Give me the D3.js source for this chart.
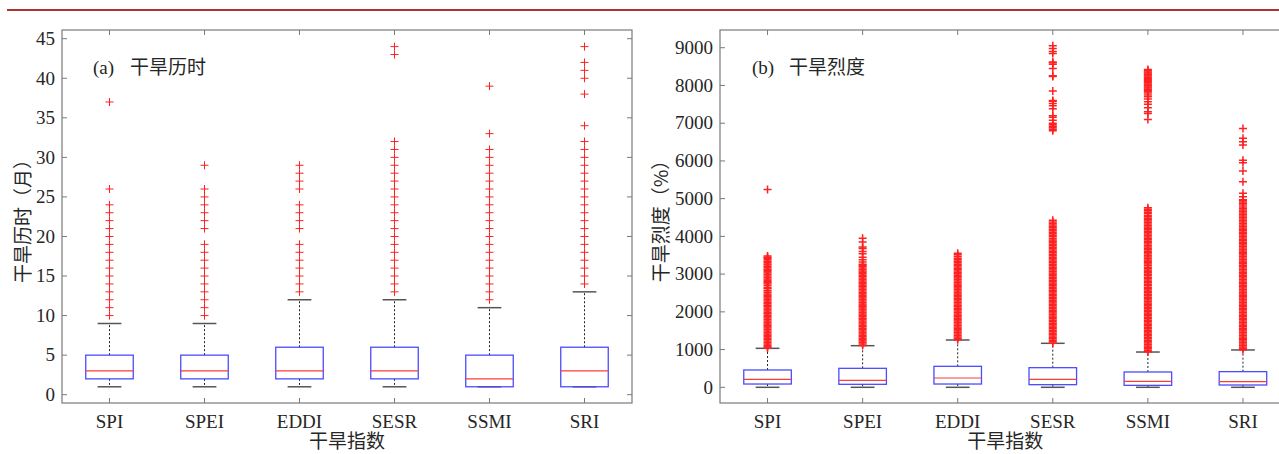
<!DOCTYPE html>
<html><head><meta charset="utf-8">
<script src="https://cdn.jsdelivr.net/npm/d3@7"></script>
<style>body{margin:0;background:#fff}svg{display:block}</style>
</head><body>
<svg id="c" width="1279" height="454"></svg>
<script>
// ---------- data ----------
const categories = ["SPI","SPEI","EDDI","SESR","SSMI","SRI"];

// panel (a) drought duration (months): [lowWhisker, q1, median, q3, highWhisker]
const durationStats = [
  [1,2,3,5,9],[1,2,3,5,9],[1,2,3,6,12],[1,2,3,6,12],[1,1,2,5,11],[1,1,3,6,13]
];
const durationOutliers = [
  [10,11,12,13,14,15,16,17,18,19,20,21,22,23,24,26,37],
  [10,11,12,13,14,15,16,17,18,19,21,22,23,24,25,26,29],
  [13,14,15,16,17,18,19,21,22,23,24,26,27,28,29],
  [13,14,15,16,17,18,19,20,21,22,23,24,25,26,27,28,29,30,31,32,43,44],
  [12,13,14,15,16,17,18,19,20,21,22,23,24,25,26,27,28,29,30,31,33,39],
  [14,15,16,17,18,19,20,21,22,23,24,25,26,27,28,29,30,31,32,34,38,40,41,42,44]
];
const durationTicks = [0,5,10,15,20,25,30,35,40,45];

// panel (b) drought severity (%)
const severityStats = [
  [0,87,212,459,1033],[0,79,185,503,1103],[0,87,246,556,1254],
  [0,70,212,520,1166],[0,52,158,406,935],[0,61,150,415,990]
];
const severityOutliersSPI = [1040,1075,1110,1150,1190,1225,1265,1300,1340,1380,1415,1455,1490,1530,1570,1605,1645,1680,1720,1760,1795,1835,1870,1910,1950,1985,2025,2060,2100,2140,2175,2215,2250,2290,2330,2365,2400,
  2440,2470,2520,2560,2610,2640,2690,2740,2770,2800,2840,2870,2910,2950,2990,3030,3060,3100,3130,3170,3200,3240,3270,3310,3340,3380,3420,3450,3480,5240];
const severityOutliersSPEI = [1110,1150,1185,1225,1260,1300,1340,1375,1415,1450,1490,1530,1565,1605,1640,1680,1720,1755,1795,1830,1870,1910,1945,1985,2020,2060,2100,2135,2175,2210,2250,2290,2325,2365,2400,2440,2480,2515,2555,2590,2630,2670,2705,2745,2780,2820,2860,2895,2935,2970,3010,3050,3085,3125,3160,3200,3235,3260,
  3320,3380,3450,3540,3600,3680,3720,3850,3950];
const severityOutliersEDDI = [1260,1300,1335,1375,1410,1450,1490,1525,1565,1600,1640,1680,1715,1755,1790,1830,1870,1905,1945,1980,2020,2060,2095,2135,2170,2210,2250,2285,2325,2360,2400,2440,2475,2515,2550,2590,2630,2665,2705,2740,2780,2820,2855,2895,2930,2970,3010,3045,3085,3120,3150,
  3190,3230,3260,3300,3340,3380,3420,3470,3510,3550];
const severityOutliersSESR = [1170,1210,1245,1285,1320,1360,1400,1435,1475,1510,1550,1590,1625,1665,1700,1740,1780,1815,1855,1890,1930,1970,2005,2045,2080,2120,2160,2195,2235,2270,2310,2350,2385,2425,2460,2500,2540,2575,2615,2650,2690,2730,2765,2805,2840,2880,2920,2955,2995,3030,3070,3110,3145,3185,3220,3260,3300,3335,3375,3410,3450,3490,3525,3565,3600,3640,3680,3715,3755,3790,3830,3870,3905,3945,
  3990,4030,4070,4110,4150,4190,4230,4260,4300,4340,4380,4430,
  6800,6840,6880,6920,6960,7000,7080,7160,7200,7380,7460,7520,7580,7600,7850,8240,8260,8450,8560,8600,8620,8850,8900,8980,9050];
const severityOutliersSSMI = [945,985,1020,1060,1095,1135,1175,1210,1250,1285,1325,1365,1400,1440,1475,1515,1555,1590,1630,1665,1705,1745,1780,1820,1855,1895,1935,1970,2010,2045,2085,2125,2160,2200,2235,2275,2315,2350,2390,2425,2465,2505,2540,2580,2615,2655,2695,2730,2770,2805,2845,2885,2920,2960,2995,3035,3075,3110,3150,3185,3225,3265,3300,3340,3375,3415,3455,3490,3530,3565,3605,3645,3680,3720,3755,3795,3835,3870,3910,3945,3985,4025,4060,4100,4135,4175,4215,4250,4290,4325,4365,4405,4440,
  4480,4520,4550,4600,4640,4680,4720,4760,
  7100,7260,7300,7410,7500,7570,7640,7700,7750,7800,7840,7870,7900,7930,7960,7990,8010,8040,8070,8100,8130,8160,8190,8220,8250,8280,8300,8330,8360,8390,8420];
const severityOutliersSRI = [995,1035,1070,1110,1145,1185,1225,1260,1300,1335,1375,1415,1450,1490,1525,1565,1605,1640,1680,1715,1755,1795,1830,1870,1905,1945,1985,2020,2060,2095,2135,2175,2210,2250,2285,2325,2365,2400,2440,2475,2515,2555,2590,2630,2665,2705,2745,2780,2820,2855,2895,2935,2970,3010,3045,3085,3125,3160,3200,3235,3275,3315,3350,3390,3425,3465,3505,3540,3580,3615,3655,3695,3730,3770,3805,3845,3885,3920,3960,3995,4035,4075,4110,4150,4190,4220,
  4260,4300,4340,4380,4420,4460,4500,4540,4580,4620,4660,4700,4740,4780,4830,4870,4910,4950,4970,5050,5140,5450,5730,5950,6020,6420,6510,6600,6860];
const severityOutliers = [severityOutliersSPI,severityOutliersSPEI,severityOutliersEDDI,severityOutliersSESR,severityOutliersSSMI,severityOutliersSRI];
const severityTicks = [0,1000,2000,3000,4000,5000,6000,7000,8000,9000];

// ---------- drawing ----------
const svg = d3.select("#c");
svg.append("rect").attr("width",1279).attr("height",454).attr("fill","#fff");
svg.append("line").attr("x1",7).attr("x2",1279).attr("y1",10).attr("y2",10)
  .attr("stroke","#b03232").attr("stroke-width",2.2);

const SERIF = "'Liberation Serif','Times New Roman',serif";
const CJK = "'Noto Sans CJK SC','Noto Sans',sans-serif";
const AX = "#7a7a7a";

function panel(o){
  const g = svg.append("g");
  const x = d3.scaleLinear().domain([0.5,6.5]).range([o.left,o.right]);
  const y = d3.scaleLinear().domain(o.ydom).range([o.bottom,o.top]);
  const tick = 5;
  g.append("rect").attr("x",o.left).attr("y",o.top).attr("width",o.right-o.left).attr("height",o.bottom-o.top)
    .attr("fill","none").attr("stroke",AX).attr("stroke-width",1.2);
  o.ticks.forEach(t=>{
    const yy = y(t);
    g.append("line").attr("x1",o.left).attr("x2",o.left+tick).attr("y1",yy).attr("y2",yy).attr("stroke",AX);
    g.append("line").attr("x1",o.right).attr("x2",o.right-tick).attr("y1",yy).attr("y2",yy).attr("stroke",AX);
    g.append("text").attr("x",o.left-7).attr("y",yy).attr("dy","0.33em").attr("text-anchor","end")
      .attr("font-family",SERIF).attr("font-size",19).attr("fill","#262626").text(t);
  });
  categories.forEach((c,i)=>{
    const xx = x(i+1);
    g.append("line").attr("x1",xx).attr("x2",xx).attr("y1",o.bottom).attr("y2",o.bottom-tick).attr("stroke",AX);
    g.append("line").attr("x1",xx).attr("x2",xx).attr("y1",o.top).attr("y2",o.top+tick).attr("stroke",AX);
    g.append("text").attr("x",xx).attr("y",428).attr("text-anchor","middle")
      .attr("font-family",SERIF).attr("font-size",19).attr("fill","#262626").text(c);
  });
  const bw = 0.25, cw = 0.125;
  o.stats.forEach((s,i)=>{
    const c = i+1;
    const [lo,q1,med,q3,hi] = s;
    g.append("line").attr("x1",x(c)).attr("x2",x(c)).attr("y1",y(q3)).attr("y2",y(hi))
      .attr("stroke","#222").attr("stroke-dasharray","2,2");
    g.append("line").attr("x1",x(c)).attr("x2",x(c)).attr("y1",y(q1)).attr("y2",y(lo))
      .attr("stroke","#222").attr("stroke-dasharray","2,2");
    g.append("line").attr("x1",x(c-cw)).attr("x2",x(c+cw)).attr("y1",y(hi)).attr("y2",y(hi))
      .attr("stroke","#555").attr("stroke-width",1.5);
    g.append("line").attr("x1",x(c-cw)).attr("x2",x(c+cw)).attr("y1",y(lo)).attr("y2",y(lo))
      .attr("stroke","#555").attr("stroke-width",1.5);
    g.append("rect").attr("x",x(c-bw)).attr("y",y(q3)).attr("width",x(c+bw)-x(c-bw)).attr("height",y(q1)-y(q3))
      .attr("fill","none").attr("stroke","#4b4bff").attr("stroke-width",1.3);
    g.append("line").attr("x1",x(c-bw)).attr("x2",x(c+bw)).attr("y1",y(med)).attr("y2",y(med))
      .attr("stroke","#ff3a3a").attr("stroke-width",1.2);
    g.append("g").selectAll("path").data(o.outliers[i]).join("path")
      .attr("transform",d=>`translate(${x(c)},${y(d)})`)
      .attr("d","M-4,0H4M0,-4V4").attr("stroke","#ff2020").attr("stroke-width",o.mw).attr("fill","none");
  });
  const lab = g.append("text").attr("x",o.labX).attr("y",o.top+44).attr("fill","#262626").attr("font-size",19);
  lab.append("tspan").attr("font-family",SERIF).text(o.labA);
  lab.append("tspan").attr("x",o.labX+37).attr("font-family",CJK).text(o.labB);
  g.append("text").attr("transform",`translate(${o.ytx},${(o.top+o.bottom)/2}) rotate(-90)`)
    .attr("text-anchor","middle").attr("font-family",CJK).attr("font-size",19).attr("fill","#262626").text(o.ytitle);
  g.append("text").attr("x",(o.left+o.right)/2).attr("y",448).attr("text-anchor","middle")
    .attr("font-family",CJK).attr("font-size",19).attr("fill","#262626").text("干旱指数");
}

panel({left:62,right:632,top:30,bottom:403,ydom:[-1.05,46.1],ticks:durationTicks,
  stats:durationStats,outliers:durationOutliers,labX:93,labA:"(a)",labB:"干旱历时",
  ytitle:"干旱历时（月）",ytx:30,mw:1});
panel({left:720,right:1290.5,top:30,bottom:403,ydom:[-416,9470],ticks:severityTicks,
  stats:severityStats,outliers:severityOutliers,labX:752,labA:"(b)",labB:"干旱烈度",
  ytitle:"干旱烈度（%）",ytx:668,mw:1.5});
</script>
</body></html>
